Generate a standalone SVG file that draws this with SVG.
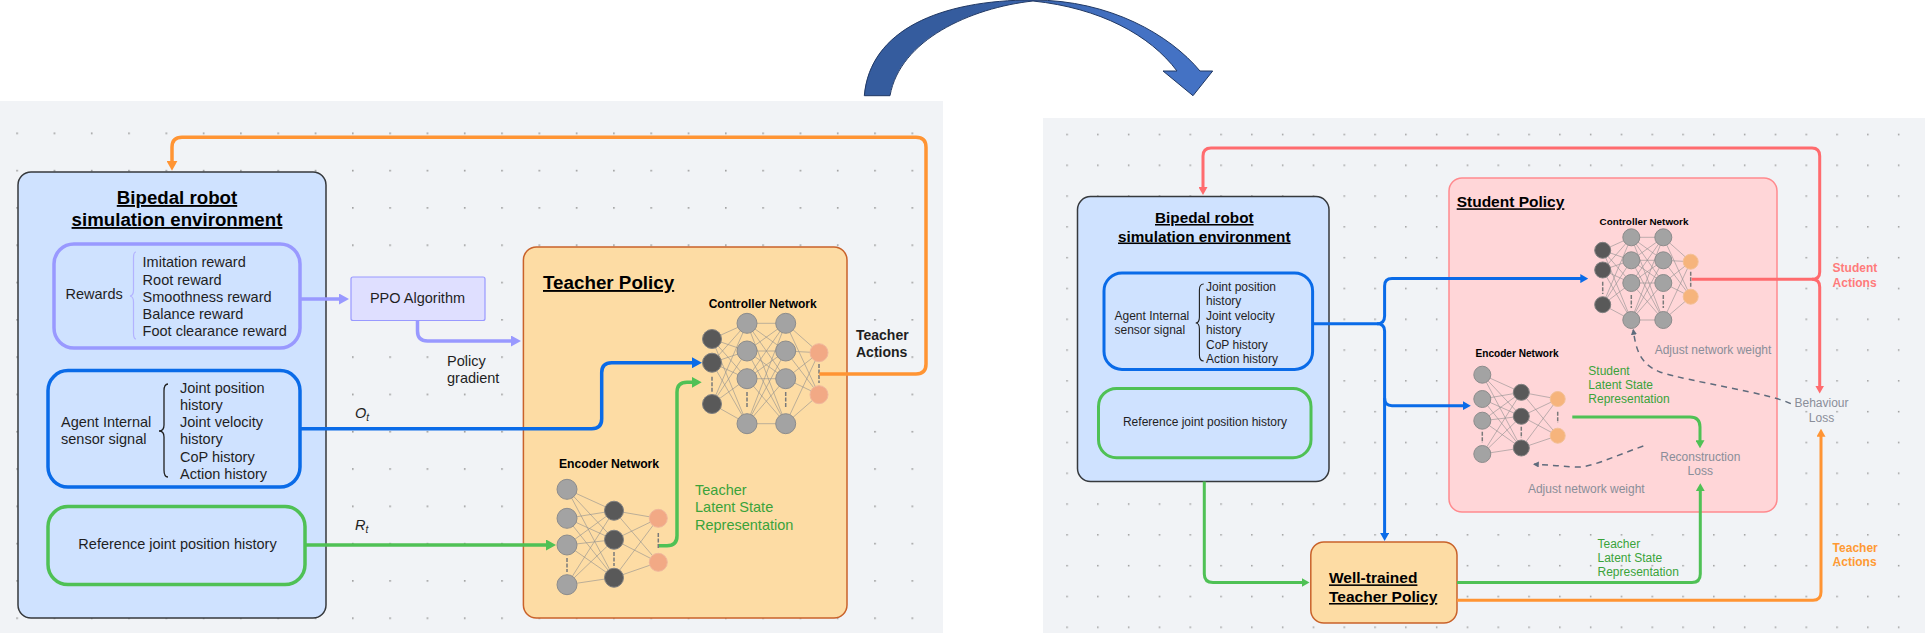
<svg xmlns="http://www.w3.org/2000/svg" width="1925" height="633" viewBox="0 0 1925 633">
<style>
text{font-family:"Liberation Sans",Arial,sans-serif;fill:#1f1f1f}
.t{font-size:14.5px}.s{font-size:12px}
.title{font-weight:bold;text-decoration:underline;fill:#000}
.net{font-weight:bold;fill:#000}
.env{fill:#cfe2ff;stroke:#36393d;stroke-width:1.5}
.teach{fill:#fddca4;stroke:#c9622a;stroke-width:1.5}
.stud{fill:#ffd6d8;stroke:#ff8a8e;stroke-width:1.5}
.box{fill:#cfe2ff}
.c{fill:none;stroke-width:3.5;stroke-linejoin:round}
.r{fill:none;stroke-width:3;stroke-linejoin:round}
.lav{stroke:#9999ff}.blue{stroke:#0a6be8}.green{stroke:#4fc155}.orange{stroke:#ff9433}.red{stroke:#ff6b6e}
.edge{fill:none;stroke:#8f8f8f;stroke-width:.8;opacity:.75}
.g{fill:#a3a3a3;stroke:#8c8c8c;stroke-width:1}
.d{fill:#595959;stroke:#808080;stroke-width:1}
.o1{fill:#f2a985;stroke:#f0b79c;stroke-width:1}
.o2{fill:#f6b47c;stroke:#f3c096;stroke-width:1}
.dash{fill:none;stroke:#7a7a7a;stroke-width:1.5;stroke-dasharray:4 1.5}
.gl{fill:#3aa33a}.gr{fill:#8a8e99}
.lossd{fill:none;stroke:#5f6b7c;stroke-width:1.5;stroke-dasharray:6 5}
</style>
<defs>
<pattern id="dl" x="16.3" y="132.5" width="37.3" height="37.3" patternUnits="userSpaceOnUse"><rect width="1.6" height="1.6" fill="#9a9a9a"/></pattern>
<pattern id="dr" x="1066.3" y="133.7" width="30.8" height="30.8" patternUnits="userSpaceOnUse"><rect width="1.5" height="1.5" fill="#9a9a9a"/></pattern>
<linearGradient id="arc" x1="0" x2="1" y1="0" y2="0"><stop offset="0.3" stop-color="#355c9e"/><stop offset="0.75" stop-color="#4472c4"/></linearGradient>
<marker id="aLav" viewBox="0 0 10 10" refX="6" refY="5" markerWidth="10" markerHeight="11" markerUnits="userSpaceOnUse" orient="auto" preserveAspectRatio="none"><path d="M0,0L10,5L0,10Z" fill="#9999ff"/></marker>
<marker id="aBlue" viewBox="0 0 10 10" refX="6" refY="5" markerWidth="10" markerHeight="11" markerUnits="userSpaceOnUse" orient="auto" preserveAspectRatio="none"><path d="M0,0L10,5L0,10Z" fill="#0a6be8"/></marker>
<marker id="aGreen" viewBox="0 0 10 10" refX="6" refY="5" markerWidth="10" markerHeight="11" markerUnits="userSpaceOnUse" orient="auto" preserveAspectRatio="none"><path d="M0,0L10,5L0,10Z" fill="#4fc155"/></marker>
<marker id="aOrange" viewBox="0 0 10 10" refX="6" refY="5" markerWidth="10" markerHeight="11" markerUnits="userSpaceOnUse" orient="auto" preserveAspectRatio="none"><path d="M0,0L10,5L0,10Z" fill="#ff9433"/></marker>
<marker id="bBlue" viewBox="0 0 10 10" refX="5" refY="5" markerWidth="8" markerHeight="9" markerUnits="userSpaceOnUse" orient="auto" preserveAspectRatio="none"><path d="M0,0L10,5L0,10Z" fill="#0a6be8"/></marker>
<marker id="bGreen" viewBox="0 0 10 10" refX="5" refY="5" markerWidth="8" markerHeight="9" markerUnits="userSpaceOnUse" orient="auto" preserveAspectRatio="none"><path d="M0,0L10,5L0,10Z" fill="#4fc155"/></marker>
<marker id="bRed" viewBox="0 0 10 10" refX="5" refY="5" markerWidth="8" markerHeight="9" markerUnits="userSpaceOnUse" orient="auto" preserveAspectRatio="none"><path d="M0,0L10,5L0,10Z" fill="#ff6b6e"/></marker>
<marker id="bOrange" viewBox="0 0 10 10" refX="5" refY="5" markerWidth="8" markerHeight="9" markerUnits="userSpaceOnUse" orient="auto" preserveAspectRatio="none"><path d="M0,0L10,5L0,10Z" fill="#ff9433"/></marker>
<marker id="bGray" viewBox="0 0 10 10" refX="8" refY="5" markerWidth="6" markerHeight="6" markerUnits="userSpaceOnUse" orient="auto" preserveAspectRatio="none"><path d="M0,0L10,5L0,10Z" fill="#5f6b7c"/></marker>
</defs>

<g id="panels">
<rect x="0" y="101" width="943" height="532" fill="#f1f3f6"/>
<rect x="0" y="101" width="943" height="532" fill="url(#dl)"/>
<rect x="1043" y="118" width="882" height="515" fill="#f1f3f6"/>
<rect x="1043" y="118" width="882" height="515" fill="url(#dr)"/>
</g>

<g id="transfer-arrow"><path d="M864.3,95.7C870,30 940,0 1033,0C1110,0 1170,35 1200,71H1212.7L1193,95.7L1163,71H1177C1150,35 1100,8 1033,1C970,8 900,40 890,95.7Z" fill="url(#arc)" stroke="#203864" stroke-width="1"/></g>

<g id="teacher-env">
<rect class="env" x="18" y="172" width="308" height="446" rx="13"/>
<text class="title" font-size="18.7" text-anchor="middle" x="177" y="204">Bipedal robot</text>
<text class="title" font-size="18.7" text-anchor="middle" x="177" y="226">simulation environment</text>
</g>
<g id="rewards">
<rect class="box lav" stroke-width="3.5" x="54" y="244" width="246" height="104" rx="20"/>
<text class="t" x="65.5" y="299">Rewards</text>
<path d="M136,252Q133.5,252 133.5,258V290Q133.5,295.5 130,296Q133.5,296.5 133.5,302V333Q133.5,339 136,339" fill="none" stroke="#b3b3ff" stroke-width="1.2"/>
<text class="t" x="142.6" y="267.4">Imitation reward</text>
<text class="t" x="142.6" y="284.8">Root reward</text>
<text class="t" x="142.6" y="302">Smoothness reward</text>
<text class="t" x="142.6" y="319.2">Balance reward</text>
<text class="t" x="142.6" y="336.4">Foot clearance reward</text>
</g>
<g id="sensor">
<rect class="box blue" stroke-width="3.5" x="48" y="370.6" width="252" height="116.4" rx="20"/>
<text class="t" x="61" y="427">Agent Internal</text>
<text class="t" x="61" y="444">sensor signal</text>
<path d="M168,384Q164,384 164,391V425Q164,431 159,431Q164,431 164,437V470Q164,477 168,477" fill="none" stroke="#1f1f1f" stroke-width="1.3"/>
<text class="t" x="180" y="392.5">Joint position</text>
<text class="t" x="180" y="410">history</text>
<text class="t" x="180" y="427">Joint velocity</text>
<text class="t" x="180" y="444">history</text>
<text class="t" x="180" y="461.6">CoP history</text>
<text class="t" x="180" y="479.3">Action history</text>
</g>
<g id="reference">
<rect class="box green" stroke-width="3.5" x="48" y="506.6" width="257" height="78" rx="20"/>
<text class="t" text-anchor="middle" x="177.5" y="549">Reference joint position history</text>
</g>
<g id="ppo">
<rect x="351" y="277" width="134" height="43.5" rx="2" fill="#dfdfff" stroke="#9999ff" stroke-width="1.2"/>
<text class="t" text-anchor="middle" x="417.5" y="303">PPO Algorithm</text>
</g>
<g id="teacher-policy">
<rect class="teach" x="523.4" y="247" width="323.6" height="371" rx="13"/>
<text class="title" font-size="18.8" x="543" y="289">Teacher Policy</text>
<text class="net" font-size="12" text-anchor="middle" x="762.7" y="307.5">Controller Network</text>
<text class="net" font-size="12.2" text-anchor="middle" x="609" y="468">Encoder Network</text>
</g>
<g id="teacher-controller">
<path class="edge" d="M712,339L747,323.3M712,339L747,351M712,339L747,378.7M712,339L747,423.7M712,362.7L747,323.3M712,362.7L747,351M712,362.7L747,378.7M712,362.7L747,423.7M712,404L747,323.3M712,404L747,351M712,404L747,378.7M712,404L747,423.7M747,323.3L785.7,323.3M747,323.3L785.7,351M747,323.3L785.7,378.7M747,323.3L785.7,423.7M747,351L785.7,323.3M747,351L785.7,351M747,351L785.7,378.7M747,351L785.7,423.7M747,378.7L785.7,323.3M747,378.7L785.7,351M747,378.7L785.7,378.7M747,378.7L785.7,423.7M747,423.7L785.7,323.3M747,423.7L785.7,351M747,423.7L785.7,378.7M747,423.7L785.7,423.7M785.7,323.3L819,352.7M785.7,351L819,352.7M785.7,378.7L819,352.7M785.7,423.7L819,352.7M785.7,323.3L819,394.7M785.7,351L819,394.7M785.7,378.7L819,394.7M785.7,423.7L819,394.7"/>
<path class="dash" d="M712,376.7V391.7M747,392V408M785.7,392V408M819,364V383"/>
<circle class="d" cx="712" cy="339" r="9.5"/><circle class="d" cx="712" cy="362.7" r="9.5"/><circle class="d" cx="712" cy="404" r="9.5"/>
<circle class="g" cx="747" cy="323.3" r="10"/><circle class="g" cx="747" cy="351" r="10"/><circle class="g" cx="747" cy="378.7" r="10"/><circle class="g" cx="747" cy="423.7" r="10"/>
<circle class="g" cx="785.7" cy="323.3" r="10"/><circle class="g" cx="785.7" cy="351" r="10"/><circle class="g" cx="785.7" cy="378.7" r="10"/><circle class="g" cx="785.7" cy="423.7" r="10"/>
<circle class="o1" cx="819" cy="352.7" r="9"/><circle class="o1" cx="819" cy="394.7" r="9"/>
</g>
<g id="teacher-encoder">
<path class="edge" d="M567,489.3L614,510.7M567,489.3L614,539.7M567,489.3L614,577.7M567,518.3L614,510.7M567,518.3L614,539.7M567,518.3L614,577.7M567,545L614,510.7M567,545L614,539.7M567,545L614,577.7M567,584.7L614,510.7M567,584.7L614,539.7M567,584.7L614,577.7M614,510.7L658.3,518.3M614,510.7L658.3,562.3M614,539.7L658.3,518.3M614,539.7L658.3,562.3M614,577.7L658.3,518.3M614,577.7L658.3,562.3"/>
<path class="dash" d="M567,558V572M614,552V566M658.3,533V548"/>
<circle class="g" cx="567" cy="489.3" r="10"/><circle class="g" cx="567" cy="518.3" r="10"/><circle class="g" cx="567" cy="545" r="10"/><circle class="g" cx="567" cy="584.7" r="10"/>
<circle class="d" cx="614" cy="510.7" r="9.5"/><circle class="d" cx="614" cy="539.7" r="9.5"/><circle class="d" cx="614" cy="577.7" r="9.5"/>
<circle class="o1" cx="658.3" cy="518.3" r="9"/><circle class="o1" cx="658.3" cy="562.3" r="9"/>
</g>

<g id="student-env">
<rect class="env" x="1077.5" y="196.6" width="251.5" height="285" rx="13"/>
<text class="title" font-size="15.3" text-anchor="middle" x="1204.3" y="223">Bipedal robot</text>
<text class="title" font-size="15.3" text-anchor="middle" x="1204.3" y="241.5">simulation environment</text>
</g>
<g id="student-sensor">
<rect class="box blue" stroke-width="3" x="1104" y="273" width="208.6" height="96.4" rx="18"/>
<text class="s" x="1114.5" y="319.5">Agent Internal</text>
<text class="s" x="1114.5" y="334">sensor signal</text>
<path d="M1203.7,284Q1199.4,284 1199.4,290V317Q1199.4,323 1195.7,323Q1199.4,323 1199.4,329V355Q1199.4,361 1203.7,361" fill="none" stroke="#1f1f1f" stroke-width="1.1"/>
<text class="s" x="1206" y="291.2">Joint position</text>
<text class="s" x="1206" y="305.2">history</text>
<text class="s" x="1206" y="319.5">Joint velocity</text>
<text class="s" x="1206" y="334">history</text>
<text class="s" x="1206" y="348.6">CoP history</text>
<text class="s" x="1206" y="362.7">Action history</text>
</g>
<g id="student-reference">
<rect class="box green" stroke-width="3" x="1098.5" y="388.4" width="212.5" height="69.4" rx="18"/>
<text class="s" text-anchor="middle" x="1205" y="425.7">Reference joint position history</text>
</g>
<g id="student-policy">
<rect class="stud" x="1449" y="178" width="328" height="334" rx="13"/>
<text class="title" font-size="15.5" x="1456.7" y="207.3">Student Policy</text>
<text class="net" font-size="9.9" text-anchor="middle" x="1644" y="224.5">Controller Network</text>
<text class="net" font-size="10.1" text-anchor="middle" x="1517" y="357">Encoder Network</text>
</g>
<g id="student-controller">
<path class="edge" d="M1602.7,250.3L1631.3,237.3M1602.7,250.3L1631.3,260.3M1602.7,250.3L1631.3,283M1602.7,250.3L1631.3,320M1602.7,270L1631.3,237.3M1602.7,270L1631.3,260.3M1602.7,270L1631.3,283M1602.7,270L1631.3,320M1602.7,304.7L1631.3,237.3M1602.7,304.7L1631.3,260.3M1602.7,304.7L1631.3,283M1602.7,304.7L1631.3,320M1631.3,237.3L1663.3,237.3M1631.3,237.3L1663.3,260.3M1631.3,237.3L1663.3,283M1631.3,237.3L1663.3,320M1631.3,260.3L1663.3,237.3M1631.3,260.3L1663.3,260.3M1631.3,260.3L1663.3,283M1631.3,260.3L1663.3,320M1631.3,283L1663.3,237.3M1631.3,283L1663.3,260.3M1631.3,283L1663.3,283M1631.3,283L1663.3,320M1631.3,320L1663.3,237.3M1631.3,320L1663.3,260.3M1631.3,320L1663.3,283M1631.3,320L1663.3,320M1663.3,237.3L1690.7,261.7M1663.3,260.3L1690.7,261.7M1663.3,283L1690.7,261.7M1663.3,320L1690.7,261.7M1663.3,237.3L1690.7,296.7M1663.3,260.3L1690.7,296.7M1663.3,283L1690.7,296.7M1663.3,320L1690.7,296.7"/>
<path class="dash" d="M1602.7,281.7V294M1631.3,295V308M1663.3,295V308M1690.7,271.7V286.7"/>
<circle class="d" cx="1602.7" cy="250.3" r="8"/><circle class="d" cx="1602.7" cy="270" r="8"/><circle class="d" cx="1602.7" cy="304.7" r="8"/>
<circle class="g" cx="1631.3" cy="237.3" r="8.5"/><circle class="g" cx="1631.3" cy="260.3" r="8.5"/><circle class="g" cx="1631.3" cy="283" r="8.5"/><circle class="g" cx="1631.3" cy="320" r="8.5"/>
<circle class="g" cx="1663.3" cy="237.3" r="8.5"/><circle class="g" cx="1663.3" cy="260.3" r="8.5"/><circle class="g" cx="1663.3" cy="283" r="8.5"/><circle class="g" cx="1663.3" cy="320" r="8.5"/>
<circle class="o2" cx="1690.7" cy="261.7" r="7.5"/><circle class="o2" cx="1690.7" cy="296.7" r="7.5"/>
</g>
<g id="student-encoder">
<path class="edge" d="M1482.3,374.7L1521.3,392.3M1482.3,374.7L1521.3,416.3M1482.3,374.7L1521.3,448M1482.3,399L1521.3,392.3M1482.3,399L1521.3,416.3M1482.3,399L1521.3,448M1482.3,420.7L1521.3,392.3M1482.3,420.7L1521.3,416.3M1482.3,420.7L1521.3,448M1482.3,454L1521.3,392.3M1482.3,454L1521.3,416.3M1482.3,454L1521.3,448M1521.3,392.3L1557.7,399M1521.3,392.3L1557.7,435.7M1521.3,416.3L1557.7,399M1521.3,416.3L1557.7,435.7M1521.3,448L1557.7,399M1521.3,448L1557.7,435.7"/>
<path class="dash" d="M1482.3,431.7V443M1521.3,426.7V438M1557.7,411.7V423"/>
<circle class="g" cx="1482.3" cy="374.7" r="8.5"/><circle class="g" cx="1482.3" cy="399" r="8.5"/><circle class="g" cx="1482.3" cy="420.7" r="8.5"/><circle class="g" cx="1482.3" cy="454" r="8.5"/>
<circle class="d" cx="1521.3" cy="392.3" r="8"/><circle class="d" cx="1521.3" cy="416.3" r="8"/><circle class="d" cx="1521.3" cy="448" r="8"/>
<circle class="o2" cx="1557.7" cy="399" r="7.5"/><circle class="o2" cx="1557.7" cy="435.7" r="7.5"/>
</g>
<g id="well-trained">
<rect class="teach" x="1310.8" y="542" width="146.2" height="81" rx="13"/>
<text class="title" font-size="15.5" x="1329" y="583.4">Well-trained</text>
<text class="title" font-size="15.5" x="1329" y="602">Teacher Policy</text>
</g>

<g id="connectors">
<path class="c lav" marker-end="url(#aLav)" d="M300,299H345"/>
<path class="c lav" marker-end="url(#aLav)" d="M417.5,320.5V331Q417.5,341 427.5,341H517"/>
<path class="c blue" marker-end="url(#aBlue)" d="M300,428.7H591.7Q601.7,428.7 601.7,418.7V372.7Q601.7,362.7 611.7,362.7H698"/>
<path class="c green" marker-end="url(#aGreen)" d="M305,545H552"/>
<path class="c green" marker-end="url(#aGreen)" d="M659,545.7H667Q677,545.7 677,535.7V392.3Q677,382.3 687,382.3H697.7"/>
<path class="c orange" marker-end="url(#aOrange)" d="M819.3,374H916Q926,374 926,364V147.3Q926,137.3 916,137.3H182Q172,137.3 172,147.3V166.8"/>
<path class="r blue" marker-end="url(#bBlue)" d="M1312.6,323.8H1377Q1384.6,323.8 1384.6,316V286Q1384.6,278.6 1392,278.6H1584.3"/>
<path class="r blue" marker-end="url(#bBlue)" d="M1377,323.8Q1384.6,323.8 1384.6,331V537"/>
<path class="r blue" marker-end="url(#bBlue)" d="M1384.6,398Q1384.6,405.7 1392,405.7H1466.8"/>
<path class="r red" marker-end="url(#bRed)" d="M1691.7,279.3H1812Q1819.7,279.3 1819.7,272V156Q1819.7,148 1812,148H1211Q1203,148 1203,156V191"/>
<path class="r red" marker-end="url(#bRed)" d="M1812,279.3Q1819.7,279.3 1819.7,287V389.6"/>
<path class="r green" marker-end="url(#bGreen)" d="M1204.3,481.6V574Q1204.3,582.5 1213,582.5H1305.5"/>
<path class="r green" marker-end="url(#bGreen)" d="M1457,582.5H1692Q1700.3,582.5 1700.3,574V487.2"/>
<path class="r green" marker-end="url(#bGreen)" d="M1572.3,417H1690Q1700,417 1700,427V444.3"/>
<path class="r orange" marker-end="url(#bOrange)" d="M1457,600.3H1813Q1821,600.3 1821,592V432.7"/>
<path class="lossd" marker-end="url(#bGray)" d="M1643.3,446C1610,458 1590,468 1575,467C1560,466 1550,465 1534,464.3"/>
<path class="lossd" marker-end="url(#bGray)" d="M1790.8,403.7C1770,393 1690,382 1660,372C1640,364 1636,350 1633.3,330"/>
</g>

<g id="labels">
<text class="t" x="447" y="366">Policy</text>
<text class="t" x="447" y="383">gradient</text>
<text font-size="14.5" font-style="italic" x="355" y="418">O<tspan font-size="10" dy="3">t</tspan></text>
<text font-size="14.5" font-style="italic" x="355" y="530">R<tspan font-size="10" dy="3">t</tspan></text>
<text class="t gl" x="695" y="495">Teacher</text>
<text class="t gl" x="695" y="512.3">Latent State</text>
<text class="t gl" x="695" y="529.7">Representation</text>
<text font-size="14" font-weight="bold" fill="#000" x="856" y="339.5">Teacher</text>
<text font-size="14" font-weight="bold" fill="#000" x="856" y="357">Actions</text>
<text class="s gl" x="1588.3" y="374.5">Student</text>
<text class="s gl" x="1588.3" y="389">Latent State</text>
<text class="s gl" x="1588.3" y="403.3">Representation</text>
<text class="s gl" x="1597.5" y="547.6">Teacher</text>
<text class="s gl" x="1597.5" y="562.2">Latent State</text>
<text class="s gl" x="1597.5" y="576.4">Representation</text>
<text class="s gr" text-anchor="middle" x="1700.3" y="461">Reconstruction</text>
<text class="s gr" text-anchor="middle" x="1700.3" y="475.2">Loss</text>
<text class="s gr" text-anchor="middle" x="1586.3" y="493.2">Adjust network weight</text>
<text class="s gr" text-anchor="middle" x="1713" y="354">Adjust network weight</text>
<text class="s gr" text-anchor="middle" x="1821.5" y="407.3">Behaviour</text>
<text class="s gr" text-anchor="middle" x="1821.5" y="421.6">Loss</text>
<text class="s" font-weight="bold" style="fill:#ff7b7b" x="1832.6" y="272.2">Student</text>
<text class="s" font-weight="bold" style="fill:#ff7b7b" x="1832.6" y="286.8">Actions</text>
<text class="s" font-weight="bold" style="fill:#ff9a33" x="1832.6" y="551.6">Teacher</text>
<text class="s" font-weight="bold" style="fill:#ff9a33" x="1832.6" y="566.2">Actions</text>
</g>
</svg>
